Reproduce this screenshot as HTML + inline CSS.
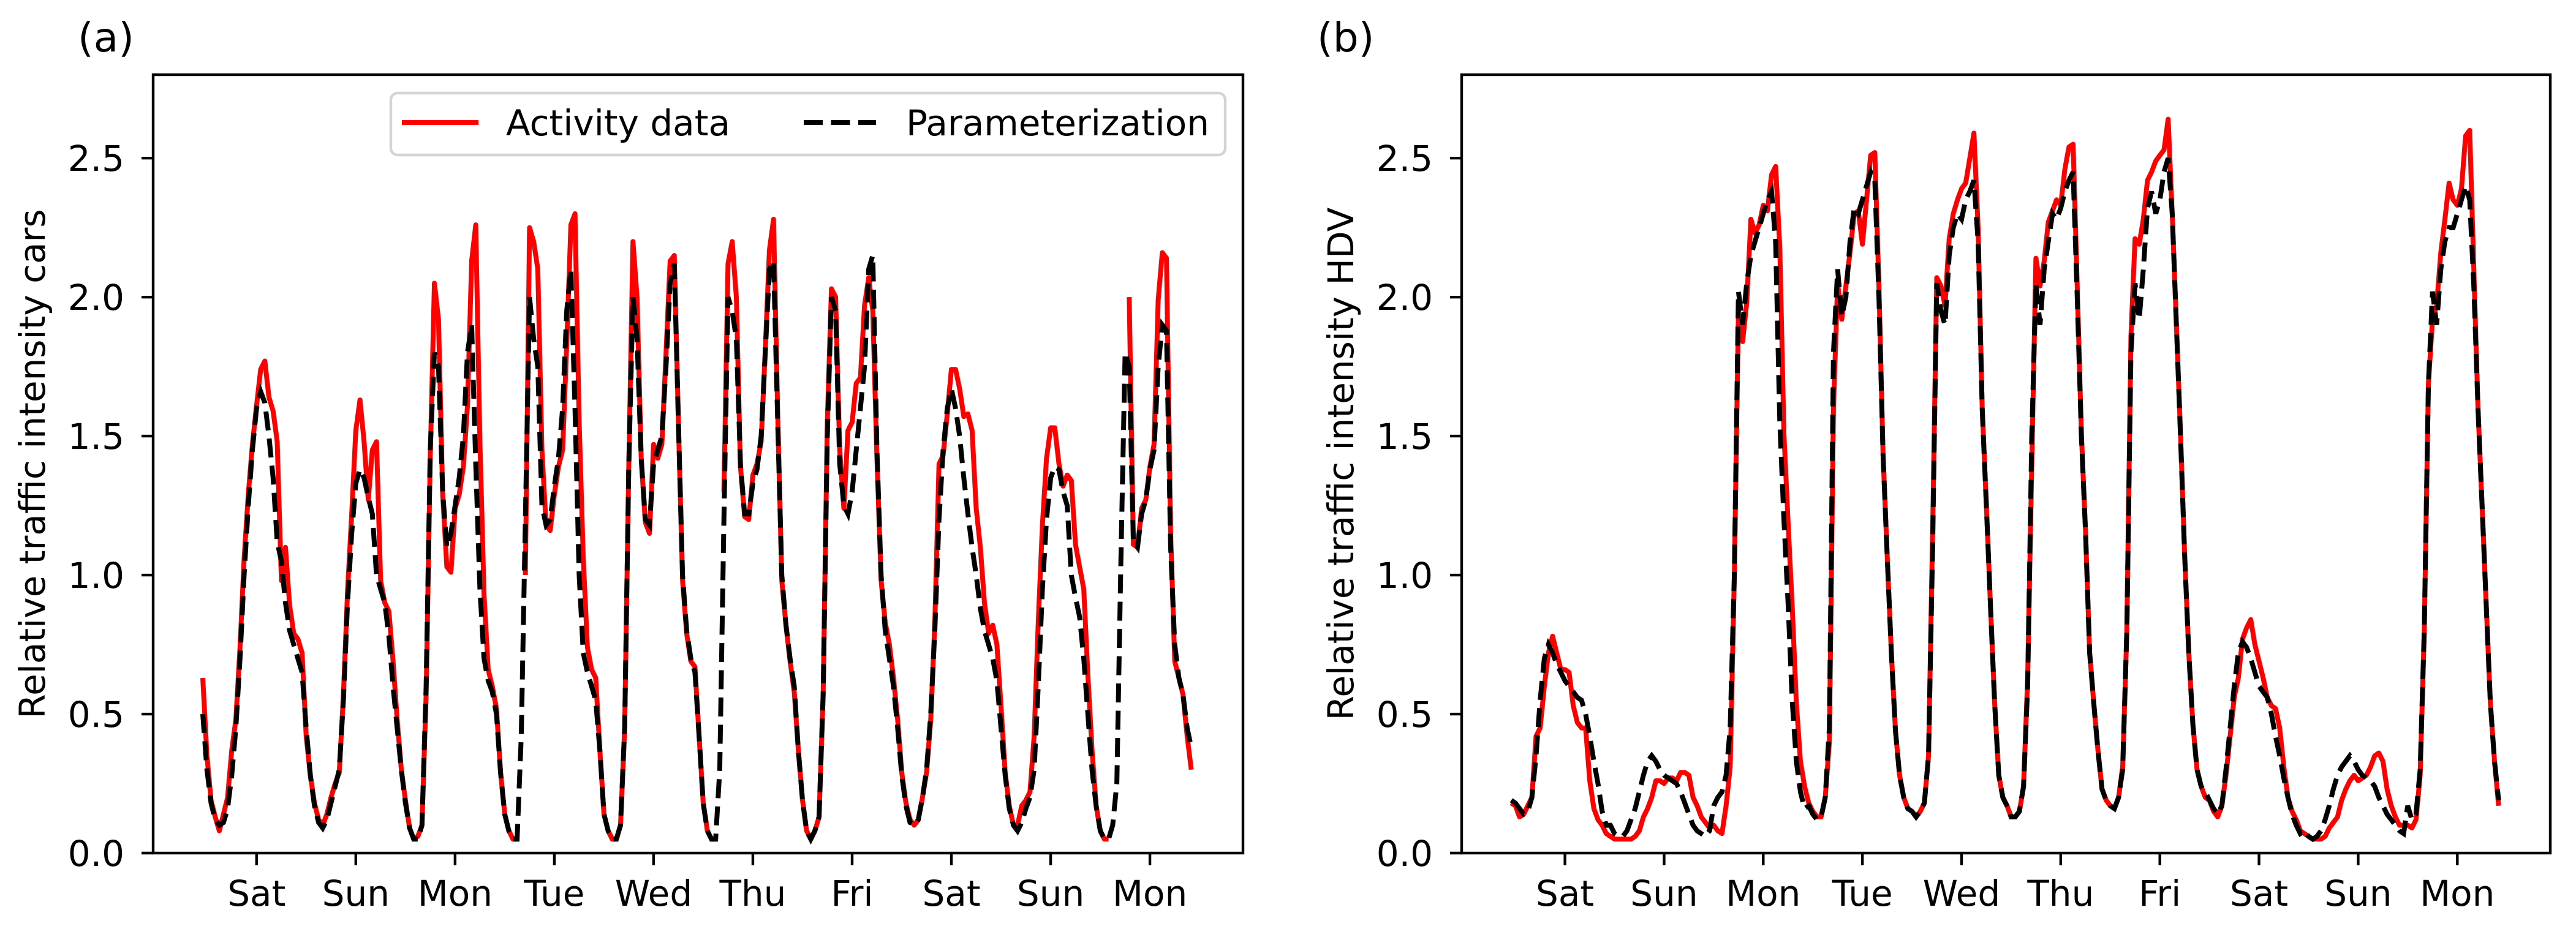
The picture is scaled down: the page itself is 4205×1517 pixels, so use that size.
<!DOCTYPE html>
<html><head><meta charset="utf-8"><style>
html,body{margin:0;padding:0;background:#fff;}
svg{display:block;font-family:"DejaVu Sans","Liberation Sans",sans-serif;}
</style></head><body>
<svg id="fig" width="4205" height="1517" viewBox="0 0 4205 1517" xmlns="http://www.w3.org/2000/svg">
<rect width="4205" height="1517" fill="#fff"/>
<g id="panelA"></g>
<g id="panelB"></g>
</svg>
<script>
const dayLabels = ["Sat","Sun","Mon","Tue","Wed","Thu","Fri","Sat","Sun","Mon"];
const tickHours = [13,37,61,85,109,133,157,181,205,229];
const yTicks = [0,0.5,1.0,1.5,2.0,2.5];
const yTickLabels = ["0.0","0.5","1.0","1.5","2.0","2.5"];

const carsActivity = [
0.63,0.35,0.19,0.13,0.08,0.14,0.2,0.37,0.48,0.74,1.06,1.29,1.47,1.61,1.74,1.77,1.64,1.59,1.48,0.98,1.1,0.89,0.79,0.77,
0.72,0.42,0.28,0.18,0.12,0.1,0.14,0.2,0.25,0.29,0.57,0.94,1.22,1.52,1.63,1.48,1.27,1.45,1.48,0.98,0.9,0.87,0.69,0.48,
0.3,0.19,0.09,0.05,0.06,0.1,0.57,1.42,2.05,1.92,1.29,1.03,1.01,1.24,1.29,1.39,1.61,2.13,2.26,1.48,0.93,0.66,0.6,0.52,
0.29,0.14,0.08,0.05,0.05,null,1.0,2.25,2.2,2.1,1.45,1.18,1.16,1.29,1.39,1.45,1.83,2.26,2.3,1.55,1.06,0.74,0.66,0.63,
0.37,0.14,0.08,0.05,0.05,0.1,0.45,1.39,2.2,2.0,1.42,1.19,1.15,1.47,1.42,1.47,1.8,2.13,2.15,1.55,0.98,0.79,0.69,0.67,
0.42,0.18,0.08,0.05,0.05,null,1.3,2.12,2.2,2.0,1.39,1.21,1.2,1.36,1.4,1.48,1.81,2.17,2.28,1.58,0.98,0.82,0.69,0.58,
0.37,0.19,0.08,0.05,0.08,0.13,0.57,1.55,2.03,2.0,1.45,1.24,1.52,1.55,1.69,1.71,1.97,2.07,1.95,1.42,0.98,0.83,0.75,0.63,
0.48,0.29,0.18,0.12,0.1,0.12,0.2,0.29,0.48,0.83,1.4,1.43,1.58,1.74,1.74,1.67,1.57,1.58,1.52,1.24,1.1,0.9,0.79,0.82,
0.75,0.53,0.29,0.17,0.1,0.1,0.17,0.19,0.22,0.42,0.83,1.18,1.42,1.53,1.53,1.4,1.32,1.36,1.34,1.11,1.03,0.95,0.64,0.37,
0.17,0.08,0.05,0.05,null,null,null,null,2.0,1.11,1.1,1.24,1.27,1.39,1.47,1.99,2.16,2.14,1.15,0.69,0.63,0.57,0.42,0.3];

const carsParam = [
0.5,0.3,0.18,0.12,0.1,0.11,0.16,0.28,0.45,0.7,1.0,1.25,1.45,1.6,1.66,1.62,1.5,1.35,1.12,1.05,0.9,0.8,0.75,0.7,
0.65,0.45,0.28,0.17,0.11,0.09,0.12,0.18,0.24,0.3,0.55,0.9,1.15,1.33,1.38,1.35,1.28,1.22,1.0,0.95,0.9,0.78,0.6,0.45,
0.3,0.18,0.09,0.05,0.05,0.1,0.6,1.45,1.8,1.75,1.3,1.1,1.15,1.25,1.35,1.5,1.8,1.9,1.4,0.95,0.7,0.62,0.58,0.5,
0.29,0.14,0.08,0.05,0.05,0.42,1.2,2.0,1.85,1.75,1.25,1.18,1.2,1.32,1.42,1.6,1.95,2.1,1.6,1.0,0.72,0.65,0.6,0.55,
0.37,0.14,0.08,0.05,0.05,0.1,0.45,1.39,2.0,1.85,1.42,1.2,1.18,1.4,1.45,1.5,1.75,2.05,2.12,1.55,1.0,0.8,0.7,0.65,
0.42,0.18,0.08,0.05,0.05,0.3,1.2,2.0,1.95,1.85,1.4,1.22,1.22,1.33,1.38,1.5,1.8,2.1,2.13,1.55,1.0,0.82,0.7,0.6,
0.37,0.19,0.08,0.05,0.08,0.13,0.57,1.5,2.0,1.95,1.4,1.25,1.22,1.3,1.45,1.6,1.75,2.1,2.15,1.45,1.0,0.8,0.7,0.6,
0.45,0.28,0.17,0.11,0.1,0.12,0.2,0.3,0.5,0.8,1.2,1.45,1.6,1.67,1.6,1.5,1.35,1.22,1.1,1.0,0.88,0.8,0.75,0.7,
0.62,0.45,0.28,0.16,0.1,0.08,0.11,0.16,0.2,0.3,0.6,0.95,1.2,1.35,1.39,1.38,1.3,1.25,1.0,0.92,0.85,0.7,0.5,0.3,
0.17,0.08,0.05,0.05,0.1,0.25,1.06,1.8,1.75,1.12,1.1,1.22,1.27,1.38,1.45,1.75,1.9,1.88,1.1,0.75,0.63,0.57,0.45,0.38];

const hdvActivity = [
0.18,0.17,0.13,0.14,0.17,0.2,0.42,0.45,0.6,0.72,0.78,0.72,0.66,0.66,0.65,0.53,0.47,0.45,0.45,0.26,0.16,0.12,0.1,0.07,
0.06,0.05,0.05,0.05,0.05,0.05,0.06,0.08,0.13,0.16,0.2,0.26,0.26,0.25,0.27,0.27,0.26,0.29,0.29,0.28,0.2,0.17,0.13,0.11,
0.09,0.1,0.08,0.07,0.17,0.31,1.0,1.95,1.84,1.98,2.28,2.23,2.26,2.33,2.31,2.44,2.47,2.18,1.51,1.19,0.89,0.54,0.33,0.24,
0.18,0.15,0.13,0.13,0.2,0.4,1.6,2.05,1.92,2.04,2.16,2.3,2.31,2.19,2.35,2.51,2.52,2.04,1.43,1.07,0.72,0.44,0.28,0.2,
0.16,0.15,0.13,0.15,0.18,0.35,1.16,2.07,2.04,1.97,2.21,2.3,2.35,2.39,2.41,2.5,2.59,2.25,1.6,1.25,0.89,0.54,0.28,0.2,
0.17,0.13,0.13,0.15,0.24,0.63,1.4,2.14,2.04,2.13,2.27,2.31,2.35,2.33,2.46,2.54,2.55,2.04,1.51,1.16,0.72,0.54,0.37,0.23,
0.19,0.17,0.16,0.2,0.31,0.8,1.86,2.21,2.19,2.28,2.42,2.45,2.49,2.51,2.53,2.64,2.3,1.9,1.51,1.07,0.72,0.46,0.3,0.24,
0.2,0.19,0.15,0.13,0.17,0.28,0.42,0.56,0.63,0.77,0.81,0.84,0.75,0.69,0.63,0.56,0.53,0.52,0.45,0.31,0.2,0.15,0.12,0.08,
0.07,0.06,0.05,0.05,0.05,0.06,0.09,0.11,0.13,0.19,0.23,0.26,0.28,0.26,0.27,0.28,0.31,0.35,0.36,0.33,0.23,0.17,0.13,0.1,
0.1,0.1,0.09,0.12,0.28,0.8,1.69,1.92,1.97,2.16,2.28,2.41,2.35,2.33,2.39,2.58,2.6,2.1,1.6,1.25,0.89,0.54,0.33,0.17];

const hdvParam = [
0.19,0.18,0.16,0.14,0.15,0.2,0.35,0.55,0.7,0.75,0.72,0.68,0.65,0.62,0.6,0.58,0.56,0.55,0.5,0.42,0.33,0.25,0.15,0.1,
0.1,0.07,0.06,0.06,0.08,0.12,0.16,0.22,0.28,0.33,0.35,0.33,0.3,0.28,0.27,0.26,0.25,0.22,0.18,0.14,0.1,0.08,0.07,0.06,
0.08,0.17,0.2,0.22,0.28,0.45,1.0,2.02,1.9,2.05,2.15,2.2,2.25,2.3,2.35,2.38,2.2,1.55,1.2,0.9,0.55,0.33,0.22,0.16,
0.17,0.14,0.12,0.13,0.2,0.45,1.8,2.1,1.93,2.0,2.2,2.32,2.3,2.35,2.4,2.45,2.42,2.0,1.43,1.07,0.72,0.44,0.28,0.2,
0.16,0.15,0.13,0.15,0.18,0.35,1.1,2.05,1.95,1.9,2.15,2.25,2.3,2.28,2.35,2.38,2.42,2.2,1.6,1.25,0.89,0.54,0.28,0.2,
0.17,0.13,0.13,0.15,0.24,0.6,1.5,2.05,1.9,2.1,2.2,2.3,2.28,2.32,2.38,2.42,2.45,2.0,1.5,1.16,0.72,0.54,0.37,0.23,
0.19,0.17,0.16,0.2,0.3,0.8,1.8,2.05,1.92,2.1,2.32,2.38,2.3,2.35,2.45,2.5,2.3,1.9,1.5,1.07,0.72,0.46,0.3,0.24,
0.22,0.19,0.16,0.14,0.17,0.3,0.45,0.6,0.72,0.76,0.74,0.7,0.65,0.6,0.58,0.56,0.5,0.42,0.35,0.27,0.2,0.14,0.1,0.07,
0.08,0.06,0.05,0.06,0.08,0.12,0.17,0.23,0.28,0.31,0.33,0.35,0.33,0.3,0.28,0.27,0.26,0.24,0.2,0.17,0.14,0.12,0.1,0.08,
0.07,0.17,0.12,0.14,0.3,0.8,1.69,2.02,1.9,2.1,2.2,2.25,2.25,2.3,2.35,2.4,2.35,2.04,1.6,1.25,0.89,0.54,0.33,0.19];

const NS = "http://www.w3.org/2000/svg";
function mk(parent, tag, attrs, text) {
  const e = document.createElementNS(NS, tag);
  for (const k in attrs) e.setAttribute(k, attrs[k]);
  if (text !== undefined) e.textContent = text;
  parent.appendChild(e);
  return e;
}

function drawPanel(g, left, right, yLabel, panelLabel, panelX, series1, series2, withLegend) {
  const top = 122, bottom = 1393;
  const xMin = -12, xMax = 251.5, yMin = 0, yMax = 2.8;
  const xs = h => left + (h - xMin) / (xMax - xMin) * (right - left);
  const ys = v => bottom - (v - yMin) / (yMax - yMin) * (bottom - top);

  // series
  function pathFor(arr) {
    let d = "", pen = false;
    for (let i = 0; i < arr.length; i++) {
      if (arr[i] === null) { pen = false; continue; }
      d += (pen ? "L" : "M") + xs(i).toFixed(1) + " " + ys(arr[i]).toFixed(1) + " ";
      pen = true;
    }
    return d;
  }
  const act = mk(g, "path", {d: pathFor(series1), fill: "none", stroke: "#ff0000", "stroke-width": 8, "stroke-linejoin": "round"});
  
  
  const par = mk(g, "path", {d: pathFor(series2), fill: "none", stroke: "#000", "stroke-width": 8, "stroke-dasharray": "31 13.5"});
  
  

  // spines
  const frame = mk(g, "rect", {x: left, y: top, width: right - left, height: bottom - top, fill: "none", stroke: "#000", "stroke-width": 4.4});
  
  

  // y ticks
  for (let i = 0; i < yTicks.length; i++) {
    const y = ys(yTicks[i]);
    const t = mk(g, "line", {x1: left - 19, x2: left, y1: y, y2: y, stroke: "#000", "stroke-width": 4.4});
    
    
    const l = mk(g, "text", {x: left - 47, y: y + 21, "text-anchor": "end", "font-size": 58, fill: "#000"}, yTickLabels[i]);
    
    
  }
  // x ticks
  for (let i = 0; i < tickHours.length; i++) {
    const x = xs(tickHours[i]);
    const t = mk(g, "line", {x1: x, x2: x, y1: bottom, y2: bottom + 20, stroke: "#000", "stroke-width": 4.4});
    
    
    const l = mk(g, "text", {x: x, y: 1479, "text-anchor": "middle", "font-size": 58, fill: "#000"}, dayLabels[i]);
    
    
  }
  // y label
  const cy = (top + bottom) / 2;
  const yl = mk(g, "text", {x: 0, y: 0, transform: "translate(" + (left - 177) + "," + cy + ") rotate(-90)", "text-anchor": "middle", "font-size": 58, fill: "#000"}, yLabel);
  
  
  // panel label
  const pl = mk(g, "text", {x: panelX, y: 84, "font-size": 66, fill: "#000"}, panelLabel);
  
  

  if (withLegend) {
    const lg = mk(g, "g", {});
    
    
    mk(lg, "rect", {x: 638, y: 152, width: 1362, height: 101, rx: 11, fill: "#fff", "fill-opacity": 0.8, stroke: "#d4d4d4", "stroke-width": 4.4});
    const e1 = mk(lg, "g", {});
    
    
    mk(e1, "line", {x1: 656, x2: 781, y1: 200, y2: 200, stroke: "#ff0000", "stroke-width": 8});
    mk(e1, "text", {x: 826, y: 221, "font-size": 58, fill: "#000"}, "Activity data");
    const e2 = mk(lg, "g", {});
    
    
    mk(e2, "line", {x1: 1312, x2: 1430, y1: 200, y2: 200, stroke: "#000", "stroke-width": 8, "stroke-dasharray": "31 13.5"});
    mk(e2, "text", {x: 1479, y: 221, "font-size": 58, fill: "#000"}, "Parameterization");
  }
}

drawPanel(document.getElementById("panelA"), 250, 2029, "Relative traffic intensity cars", "(a)", 127, carsActivity, carsParam, true);
drawPanel(document.getElementById("panelB"), 2386, 4163, "Relative traffic intensity HDV", "(b)", 2150, hdvActivity, hdvParam, false);
</script>
</body></html>
